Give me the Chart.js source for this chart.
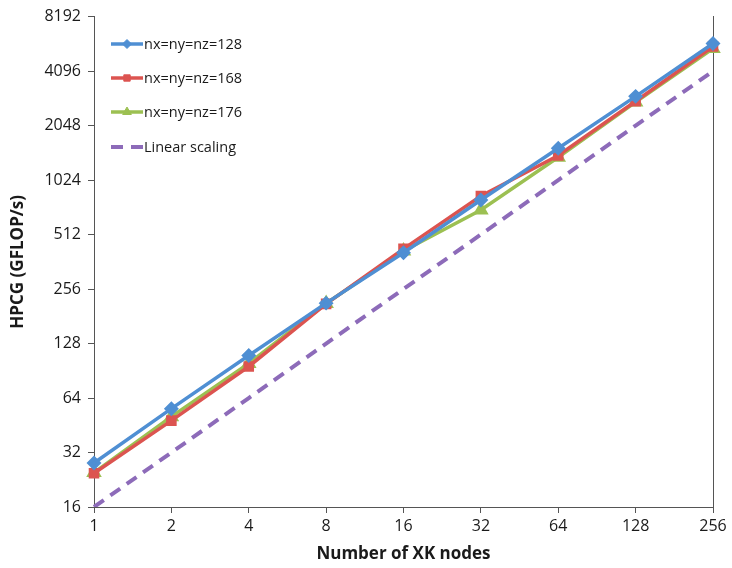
<!DOCTYPE html>
<html>
<head>
<meta charset="utf-8">
<script src="https://cdn.jsdelivr.net/npm/chart.js@4/dist/chart.umd.min.js"></script>
<style>
html,body{margin:0;padding:0;background:#fff;}
#wrap{position:relative;width:732px;height:568px;}
</style>
</head>
<body>
<div id="wrap"><canvas id="c" width="732" height="568"></canvas></div>
<script>
const categories = ['1','2','4','8','16','32','64','128','256'];
const s128 = [28.0, 55.9, 110, 214, 406, 794, 1536, 2970, 5816];
const s168 = [24.6, 48.0, 95.6, 212, 427, 836, 1400, 2790, 5600];
const s176 = [24.8, 50.5, 99.4, 213, 416, 700, 1370, 2760, 5456];
const linear = [16, 32, 64, 128, 256, 512, 1024, 2048, 4096];
const yTicks = [16, 32, 64, 128, 256, 512, 1024, 2048, 4096, 8192];
const seriesNames = ['nx=ny=nz=128', 'nx=ny=nz=168', 'nx=ny=nz=176', 'Linear scaling'];

const FONT = "'Open Sans', 'DejaVu Sans', sans-serif";
const BLUE = '#4f8fd3', RED = '#dc5450', GREEN = '#9cc052', PURPLE = '#8d6bb9';

const legendPlugin = {
  id: 'insideLegend',
  afterDraw(chart) {
    const ctx = chart.ctx;
    const x0 = 111, x1 = 143;
    const rows = [44, 78, 112, 147];
    ctx.save();
    chart.data.datasets.forEach((ds, i) => {
      const y = rows[i];
      ctx.strokeStyle = ds.borderColor;
      ctx.lineWidth = ds.borderWidth;
      ctx.setLineDash(ds.borderDash || []);
      ctx.beginPath(); ctx.moveTo(x0, y); ctx.lineTo(x1, y); ctx.stroke();
      ctx.setLineDash([]);
      if (ds.pointStyle && ds.pointRadius > 0) {
        ctx.fillStyle = ds.borderColor;
        ctx.strokeStyle = ds.borderColor;
        ctx.lineWidth = 1;
        Chart.helpers.drawPoint(ctx, {
          pointStyle: ds.pointStyle, radius: ds.pointRadius - 0.5, borderWidth: 1, rotation: 0
        }, (x0 + x1) / 2, y);
      }
      ctx.fillStyle = '#1a1a1a';
      ctx.font = '14.5px ' + FONT;
      ctx.textBaseline = 'middle';
      ctx.textAlign = 'left';
      ctx.fillText(ds.label, x1 + 1, y + 1);
    });
    ctx.restore();
  }
};

function mk(label, data, color, style, radius) {
  return {
    label, data,
    borderColor: color, backgroundColor: color,
    pointBackgroundColor: color, pointBorderColor: color,
    borderWidth: 3.5, pointStyle: style, pointRadius: radius, pointHoverRadius: radius,
    tension: 0
  };
}

const datasets = [
  mk(seriesNames[0], s128, BLUE, 'rectRot', 5),
  mk(seriesNames[1], s168, RED, 'rect', 5),
  mk(seriesNames[2], s176, GREEN, 'triangle', 5.5),
  Object.assign(mk(seriesNames[3], linear, PURPLE, false, 0), {borderDash: [12, 8], borderWidth: 4})
];

new Chart(document.getElementById('c'), {
  type: 'line',
  data: { labels: categories, datasets },
  plugins: [legendPlugin],
  options: {
    responsive: false,
    animation: false,
    devicePixelRatio: 1,
    layout: { padding: { left: 8, right: 19, top: 15, bottom: 0 } },
    plugins: { legend: { display: false }, tooltip: { enabled: false } },
    scales: {
      x: {
        type: 'category',
        offset: false,
        grid: { display: true, drawOnChartArea: false, drawTicks: true, tickLength: 6, color: '#555' },
        border: { display: true, color: '#555', width: 1 },
        ticks: { color: '#1a1a1a', font: { family: FONT, size: 16 }, padding: 4, maxRotation: 0, autoSkip: false },
        title: { display: true, text: 'Number of XK nodes', color: '#1a1a1a', font: { family: FONT, size: 17, weight: 'bold' }, padding: { top: 1, bottom: 4 } },
        afterFit(scale) { scale.height = 61; }
      },
      y: {
        type: 'logarithmic',
        min: 16, max: 8192,
        grid: { display: true, drawOnChartArea: false, drawTicks: true, tickLength: 6, color: '#555' },
        border: { display: true, color: '#555', width: 1 },
        ticks: { color: '#1a1a1a', font: { family: FONT, size: 16 }, padding: 7,
          callback: (v) => String(v) },
        afterBuildTicks(scale) { scale.ticks = yTicks.map(v => ({ value: v })); },
        title: { display: true, text: 'HPCG (GFLOP/s)', color: '#1a1a1a', font: { family: FONT, size: 17, weight: 'bold' }, padding: { top: 0, bottom: 4 } },
        afterFit(scale) { scale.width = 86; }
      },
      y2: {
        type: 'logarithmic', position: 'right', min: 16, max: 8192,
        grid: { display: false },
        border: { display: true, color: '#555', width: 1 },
        ticks: { display: false },
        afterFit(scale) { scale.width = 0; }
      }
    }
  }
});
</script>
</body>
</html>
